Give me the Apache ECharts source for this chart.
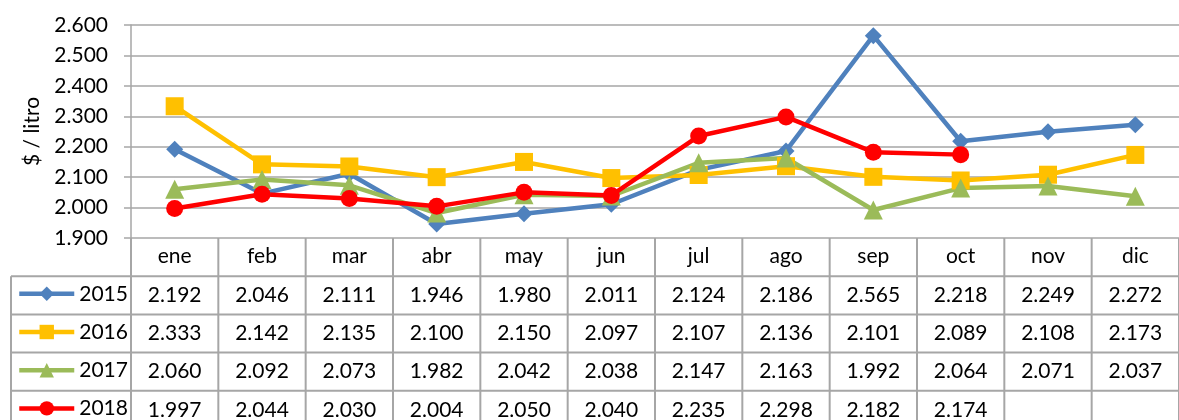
<!DOCTYPE html>
<html><head><meta charset="utf-8">
<script src="https://cdn.jsdelivr.net/npm/echarts@6/dist/echarts.min.js"></script>
<style>html,body{margin:0;padding:0;background:#fff}#c{width:1179px;height:420px}</style>
</head><body><div id="c"></div>
<script>
// ---- data ----
const months = ['ene','feb','mar','abr','may','jun','jul','ago','sep','oct','nov','dic'];
const seriesNames = ['2015','2016','2017','2018'];
const v2015 = [2.192, 2.046, 2.111, 1.946, 1.980, 2.011, 2.124, 2.186, 2.565, 2.218, 2.249, 2.272];
const v2016 = [2.333, 2.142, 2.135, 2.100, 2.150, 2.097, 2.107, 2.136, 2.101, 2.089, 2.108, 2.173];
const v2017 = [2.060, 2.092, 2.073, 1.982, 2.042, 2.038, 2.147, 2.163, 1.992, 2.064, 2.071, 2.037];
const v2018 = [1.997, 2.044, 2.030, 2.004, 2.050, 2.040, 2.235, 2.298, 2.182, 2.174, null, null];
const yMin = 1.9, yMax = 2.6, yStep = 0.1;
const yName = '$ / litro';

// ---- style ----
const FONT = 'Lato';
const FS = 21;
const colors = ['#4F81BD', '#FFC000', '#9BBB59', '#FF0000'];
const symbols = ['diamond', 'rect', 'triangle', 'circle'];
const symSizes = [17, 18, 19, 17];
const gridColor = '#A6A6A6';
const gridTop = 25, gridLeft = 131, gridH = 213, gridW = 1062;
const rowH = 38.2;
const tableLeft = 11;
const allData = [v2015, v2016, v2017, v2018];

const chart = echarts.init(document.getElementById('c'));
const tableTop = gridTop + gridH;

const legends = seriesNames.map((n, i) => ({
  data: [n],
  left: 17,
  top: tableTop + (i + 1.5) * rowH - 12,
  itemWidth: 55,
  itemHeight: 18,
  selectedMode: false,
  lineStyle: { width: 4.5 },
  textStyle: { fontSize: FS, fontFamily: FONT, color: '#000', lineHeight: 18, padding: [0, 0, 0, 0] },
  padding: 0
}));

chart.setOption({
  animation: false,
  grid: { left: gridLeft, top: gridTop, width: gridW, height: gridH },
  legend: legends,
  xAxis: {
    type: 'category', data: months, boundaryGap: true,
    axisLine: { show: false }, axisTick: { show: false }, splitLine: { show: false },
    axisLabel: { fontSize: FS, fontFamily: FONT, color: '#000', margin: 8, lineHeight: 21 }
  },
  yAxis: {
    type: 'value', min: yMin, max: yMax, interval: yStep,
    axisLine: { show: true, lineStyle: { color: gridColor, width: 1.5 } },
    axisTick: { show: true, length: 7, lineStyle: { color: gridColor, width: 1.5 } },
    splitLine: { show: true, lineStyle: { color: gridColor, width: 1.5 } },
    axisLabel: { fontSize: FS, fontFamily: FONT, color: '#000', margin: 23, formatter: v => v.toFixed(3) },
    name: yName, nameLocation: 'middle', nameRotate: 90, nameGap: 88,
    nameTextStyle: { fontSize: FS, fontFamily: FONT, color: '#000' }
  },
  series: seriesNames.map((n, i) => ({
    name: n, type: 'line', data: allData[i],
    symbol: symbols[i], symbolSize: symSizes[i],
    lineStyle: { width: 4.5, color: colors[i] },
    itemStyle: { color: colors[i] },
    connectNulls: false
  }))
});

// ---- table drawn with the axis scale ----
const c0 = chart.convertToPixel({ xAxisIndex: 0 }, 0);
const c1 = chart.convertToPixel({ xAxisIndex: 0 }, 1);
const band = c1 - c0;
const bottom = tableTop + 5 * rowH;
const els = [];
const lineStyle = { stroke: gridColor, lineWidth: 2 };
for (let k = 1; k <= 5; k++) {
  const y = tableTop + k * rowH;
  els.push({ type: 'line', shape: { x1: tableLeft, y1: y, x2: 1200, y2: y }, style: lineStyle, silent: true });
}
els.push({ type: 'line', shape: { x1: tableLeft, y1: tableTop + rowH, x2: tableLeft, y2: bottom }, style: lineStyle, silent: true });
for (let j = 0; j <= months.length; j++) {
  const x = c0 - band / 2 + j * band;
  els.push({ type: 'line', shape: { x1: x, y1: tableTop, x2: x, y2: bottom }, style: lineStyle, silent: true });
}
allData.forEach((arr, i) => {
  arr.forEach((v, j) => {
    if (v == null) return;
    const x = chart.convertToPixel({ xAxisIndex: 0 }, j);
    els.push({
      type: 'text', silent: true,
      x: x, y: tableTop + (i + 1.5) * rowH,
      style: { text: v.toFixed(3), fontSize: FS, fontFamily: FONT, fill: '#000', align: 'center', verticalAlign: 'middle' }
    });
  });
});
chart.setOption({ graphic: els });
</script></body></html>
